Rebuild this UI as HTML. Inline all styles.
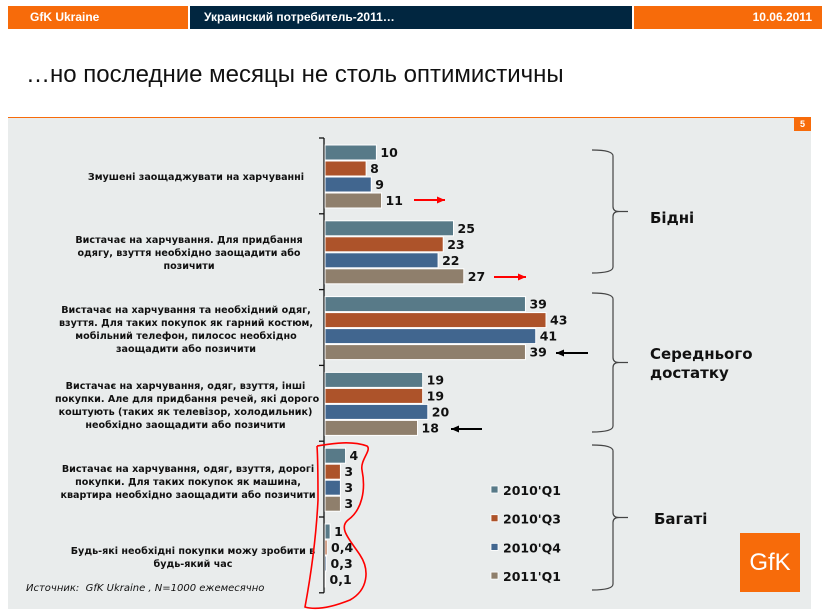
<!DOCTYPE html>
<html><head><meta charset="utf-8">
<style>
body{margin:0;width:837px;height:616px;background:#fff;font-family:"Liberation Sans","DejaVu Sans",sans-serif;overflow:hidden;position:relative}
.abs{position:absolute}
.hdr{top:6px;height:23px;color:#fff;font-size:12px;font-weight:bold;line-height:23px}
.lbl{position:absolute;font-family:"DejaVu Sans",sans-serif;font-size:9.6px;font-weight:bold;text-align:center;color:#111;line-height:13px;white-space:nowrap}
</style></head><body>
<div class="abs hdr" style="left:8px;width:180px;background:#f76b0a;padding-left:22px;box-sizing:border-box">GfK Ukraine</div>
<div class="abs hdr" style="left:190px;width:442px;background:#012640;padding-left:14px;box-sizing:border-box">Украинский потребитель-2011…</div>
<div class="abs hdr" style="left:634px;width:188px;background:#f76b0a;text-align:right;padding-right:10px;box-sizing:border-box">10.06.2011</div>
<div class="abs" style="left:26px;top:61px;font-size:24px;color:#111">…но последние месяцы не столь оптимистичны</div>
<div class="abs" style="left:8px;top:117px;width:803px;height:491px;background:#e9ecec;border-top:1px solid #f76b0a"></div>
<div class="abs" style="left:794px;top:118px;width:17px;height:13px;background:#f76b0a;color:#fff;font-size:9px;font-weight:bold;text-align:center;line-height:13px">5</div>

<div class="lbl" style="left:78px;width:236px;top:171px">Змушені заощаджувати на харчуванні</div>
<div class="lbl" style="left:66px;width:246px;top:234px">Вистачає на харчування. Для придбання<br>одягу, взуття необхідно заощадити або<br>позичити</div>
<div class="lbl" style="left:56px;width:260px;top:304px">Вистачає на харчування та необхідний одяг,<br>взуття. Для таких покупок як гарний костюм,<br>мобільний телефон, пилосос необхідно<br>заощадити або позичити</div>
<div class="lbl" style="left:55px;width:261px;top:380px">Вистачає на харчування, одяг, взуття, інші<br>покупки. Але для придбання речей, які дорого<br>коштують (таких як телевізор, холодильник)<br>необхідно заощадити або позичити</div>
<div class="lbl" style="left:60px;width:256px;top:463px">Вистачає на харчування, одяг, взуття, дорогі<br>покупки. Для таких покупок як машина,<br>квартира необхідно заощадити або позичити</div>
<div class="lbl" style="left:66px;width:254px;top:545px">Будь-які необхідні покупки можу зробити в<br>будь-який час</div>
<div class="abs" style="left:26px;top:583px;font-size:10px;font-style:italic;color:#111;font-family:'DejaVu Sans',sans-serif">Источник:&nbsp; GfK Ukraine , N=1000 ежемесячно</div>

<div class="abs" style="left:740px;top:533px;width:60px;height:59px;background:#f76b0a;color:#fff;font-size:24px;text-align:center;line-height:59px">GfK</div>

<svg class="abs" style="left:0;top:0" width="837" height="616" id="chart"></svg>
<script>
const categories=["forced-save-food","enough-food","enough-clothes","enough-other","expensive","any"];
const seriesNames=["2010'Q1","2010'Q3","2010'Q4","2011'Q1"];
const q1_2010=[10,25,39,19,4,1];
const q3_2010=[8,23,43,19,3,0.4];
const q4_2010=[9,22,41,20,3,0.3];
const q1_2011=[11,27,39,18,3,0.1];
const colors=["#587a88","#ad532a","#41668f","#8f7f6c"];
const series=[q1_2010,q3_2010,q4_2010,q1_2011];
const svg=document.getElementById('chart');const NS='http://www.w3.org/2000/svg';
function mk(t,a,p){const e=document.createElementNS(NS,t);for(const k in a)e.setAttribute(k,a[k]);(p||svg).appendChild(e);return e;}
const x0=324,top0=138,groupH=75.8,pxPer=5.14;
function xs(v){return x0+v*pxPer;}
function gy(i){return top0+i*groupH;}
let ax=mk('line',{x1:x0,y1:top0,x2:x0,y2:gy(categories.length),stroke:'#111','stroke-width':1.3});


for(let i=0;i<=categories.length;i++){const t=mk('line',{x1:x0-5,y1:gy(i),x2:x0,y2:gy(i),stroke:'#111','stroke-width':1.3});

}
categories.forEach((c,i)=>{series.forEach((s,j)=>{const y=gy(i)+7+j*16;const w=Math.max(xs(s[i])-x0,0.5);
const r=mk('rect',{x:x0+1,y:y,width:w,height:15,fill:colors[j],stroke:'#fff','stroke-width':1});


const t=mk('text',{x:x0+w+5,y:y+12,'font-size':12.5,'font-weight':'bold',fill:'#111','font-family':'DejaVu Sans, sans-serif'});
t.textContent=String(s[i]).replace('.',',');

});});
function arrow(x1,x2,y,col,name){const l=mk('line',{x1:x1,y1:y,x2:x2,y2:y,stroke:col,'stroke-width':2});


const d=x2>x1?1:-1;mk('polygon',{points:`${x2},${y} ${x2-d*8},${y-3.5} ${x2-d*8},${y+3.5}`,fill:col});}
arrow(414,445,200,'#f00','red-arrow-1');arrow(494,526,277,'#f00','red-arrow-2');
arrow(588,556,353,'#000','black-arrow-1');arrow(482,451,429,'#000','black-arrow-2');
function brace(y1,y2,name){const m=(y1+y2)/2,x=592,xb=613;
const p=mk('path',{d:`M${x},${y1} Q${xb},${y1} ${xb},${y1+6} L${xb},${m-5} Q${xb},${m} ${xb+6},${m} L${xb+15},${m} M${xb+6},${m} Q${xb},${m} ${xb},${m+5} L${xb},${y2-6} Q${xb},${y2} ${x},${y2}`,fill:'none',stroke:'#444','stroke-width':1.2});

}
brace(150,273,'brace-poor');brace(293,432,'brace-middle');brace(445,590,'brace-rich');
function txt(x,y,s,name){const t=mk('text',{x:x,y:y,'font-size':15,'font-weight':'bold',fill:'#111','font-family':'DejaVu Sans, sans-serif'});t.textContent=s;

}
txt(650,223,'Бідні','group-poor');txt(650,359,'Середнього','group-middle-1');txt(650,378,'достатку','group-middle-2');txt(654,524,'Багаті','group-rich');
seriesNames.forEach((n,j)=>{const y=490+j*28.7;const r=mk('rect',{x:491,y:y-4,width:7,height:7,fill:colors[j],stroke:'#fff','stroke-width':0.8});


const t=mk('text',{x:503,y:y+5,'font-size':12.5,'font-weight':'bold',fill:'#111','font-family':'DejaVu Sans, sans-serif'});t.textContent=n;

});
const loop=mk('path',{d:'M317,446 C330,444 350,440 367,446 C372,450 360,460 362,470 C366,490 362,510 348,520 C338,528 350,540 360,555 C370,570 368,590 350,600 C330,608 315,610 305,607 C310,580 316,540 318,500 C318,480 318,460 317,446',fill:'none',stroke:'#f00','stroke-width':1.6});


</script>
</body></html>
